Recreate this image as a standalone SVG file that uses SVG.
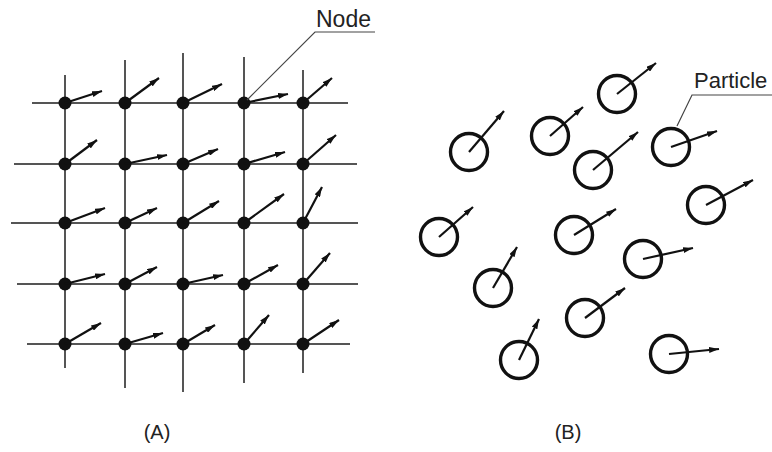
<svg xmlns="http://www.w3.org/2000/svg" width="772" height="452" viewBox="0 0 772 452">
<defs>
<marker id="ah" viewBox="0 0 10 6" refX="10" refY="3" markerWidth="10" markerHeight="6" markerUnits="userSpaceOnUse" orient="auto"><path d="M0,0 L10,3 L0,6 z" fill="#111"/></marker>
<style>
.grid{stroke:#555;stroke-width:2;fill:none}
.vec{stroke:#111;stroke-width:2.2;fill:none;marker-end:url(#ah)}
.dot{fill:#111}
.part{fill:none;stroke:#111;stroke-width:3.4}
.lead{stroke:#444;stroke-width:1.2;fill:none}
.lbl{font-family:"Liberation Sans",Arial,sans-serif;font-size:23px;fill:#222}
.cap{font-family:"Liberation Sans",Arial,sans-serif;font-size:20px;fill:#222;text-anchor:middle}
</style>
</defs>
<rect width="772" height="452" fill="#fff"/>
<g id="grid-lines">
<line class="grid" x1="32" y1="103" x2="348" y2="103"/>
<line class="grid" x1="14" y1="164" x2="357" y2="164"/>
<line class="grid" x1="11" y1="223" x2="358" y2="223"/>
<line class="grid" x1="17" y1="284" x2="358" y2="284"/>
<line class="grid" x1="27" y1="344" x2="350" y2="344"/>
<line class="grid" x1="65" y1="75" x2="65" y2="368"/>
<line class="grid" x1="125" y1="60" x2="125" y2="388"/>
<line class="grid" x1="183" y1="53" x2="183" y2="392"/>
<line class="grid" x1="244" y1="57" x2="244" y2="383"/>
<line class="grid" x1="303" y1="70" x2="303" y2="373"/>
</g>
<g id="grid-nodes">
<g id="n11"><circle class="dot" cx="65" cy="103" r="6.5"/><line class="vec" x1="65" y1="103" x2="102" y2="91"/></g>
<g id="n12"><circle class="dot" cx="125" cy="103" r="6.5"/><line class="vec" x1="125" y1="103" x2="159" y2="78"/></g>
<g id="n13"><circle class="dot" cx="183" cy="103" r="6.5"/><line class="vec" x1="183" y1="103" x2="222" y2="84"/></g>
<g id="n14"><circle class="dot" cx="244" cy="103" r="6.5"/><line class="vec" x1="244" y1="103" x2="288" y2="94"/></g>
<g id="n15"><circle class="dot" cx="303" cy="103" r="6.5"/><line class="vec" x1="303" y1="103" x2="332" y2="78"/></g>
<g id="n21"><circle class="dot" cx="65" cy="164" r="6.5"/><line class="vec" x1="65" y1="164" x2="97" y2="140"/></g>
<g id="n22"><circle class="dot" cx="125" cy="164" r="6.5"/><line class="vec" x1="125" y1="164" x2="167" y2="155"/></g>
<g id="n23"><circle class="dot" cx="183" cy="164" r="6.5"/><line class="vec" x1="183" y1="164" x2="218" y2="149"/></g>
<g id="n24"><circle class="dot" cx="244" cy="164" r="6.5"/><line class="vec" x1="244" y1="164" x2="285" y2="152"/></g>
<g id="n25"><circle class="dot" cx="303" cy="164" r="6.5"/><line class="vec" x1="303" y1="164" x2="336" y2="135"/></g>
<g id="n31"><circle class="dot" cx="65" cy="223" r="6.5"/><line class="vec" x1="65" y1="223" x2="105" y2="208"/></g>
<g id="n32"><circle class="dot" cx="125" cy="223" r="6.5"/><line class="vec" x1="125" y1="223" x2="157" y2="208"/></g>
<g id="n33"><circle class="dot" cx="183" cy="223" r="6.5"/><line class="vec" x1="183" y1="223" x2="219" y2="201"/></g>
<g id="n34"><circle class="dot" cx="244" cy="223" r="6.5"/><line class="vec" x1="244" y1="223" x2="284" y2="194"/></g>
<g id="n35"><circle class="dot" cx="303" cy="223" r="6.5"/><line class="vec" x1="303" y1="223" x2="322" y2="187"/></g>
<g id="n41"><circle class="dot" cx="65" cy="284" r="6.5"/><line class="vec" x1="65" y1="284" x2="105" y2="274"/></g>
<g id="n42"><circle class="dot" cx="125" cy="284" r="6.5"/><line class="vec" x1="125" y1="284" x2="157" y2="267"/></g>
<g id="n43"><circle class="dot" cx="183" cy="284" r="6.5"/><line class="vec" x1="183" y1="284" x2="223" y2="275"/></g>
<g id="n44"><circle class="dot" cx="244" cy="284" r="6.5"/><line class="vec" x1="244" y1="284" x2="278" y2="265"/></g>
<g id="n45"><circle class="dot" cx="303" cy="284" r="6.5"/><line class="vec" x1="303" y1="284" x2="330" y2="253"/></g>
<g id="n51"><circle class="dot" cx="65" cy="344" r="6.5"/><line class="vec" x1="65" y1="344" x2="101" y2="323"/></g>
<g id="n52"><circle class="dot" cx="125" cy="344" r="6.5"/><line class="vec" x1="125" y1="344" x2="163" y2="333"/></g>
<g id="n53"><circle class="dot" cx="183" cy="344" r="6.5"/><line class="vec" x1="183" y1="344" x2="215" y2="325"/></g>
<g id="n54"><circle class="dot" cx="244" cy="344" r="6.5"/><line class="vec" x1="244" y1="344" x2="269" y2="315"/></g>
<g id="n55"><circle class="dot" cx="303" cy="344" r="6.5"/><line class="vec" x1="303" y1="344" x2="339" y2="320"/></g>
</g>
<g id="particles">
<g id="p1"><circle class="part" cx="617" cy="94" r="18.5"/><line class="vec" x1="617" y1="94" x2="656" y2="63"/></g>
<g id="p2"><circle class="part" cx="469" cy="152" r="18.5"/><line class="vec" x1="469" y1="152" x2="504" y2="111"/></g>
<g id="p3"><circle class="part" cx="550" cy="136" r="18.5"/><line class="vec" x1="550" y1="136" x2="583" y2="107"/></g>
<g id="p4"><circle class="part" cx="593" cy="170" r="18.5"/><line class="vec" x1="593" y1="170" x2="638" y2="132"/></g>
<g id="p5"><circle class="part" cx="671" cy="147" r="18.5"/><line class="vec" x1="671" y1="147" x2="717" y2="131"/></g>
<g id="p6"><circle class="part" cx="706" cy="205" r="18.5"/><line class="vec" x1="706" y1="205" x2="753" y2="180"/></g>
<g id="p7"><circle class="part" cx="439" cy="237" r="18.5"/><line class="vec" x1="439" y1="237" x2="473" y2="207"/></g>
<g id="p8"><circle class="part" cx="574" cy="235" r="18.5"/><line class="vec" x1="574" y1="235" x2="616" y2="209"/></g>
<g id="p9"><circle class="part" cx="643" cy="259" r="18.5"/><line class="vec" x1="643" y1="259" x2="693" y2="248"/></g>
<g id="p10"><circle class="part" cx="493" cy="288" r="18.5"/><line class="vec" x1="493" y1="288" x2="517" y2="247"/></g>
<g id="p11"><circle class="part" cx="585" cy="318" r="18.5"/><line class="vec" x1="585" y1="318" x2="625" y2="288"/></g>
<g id="p12"><circle class="part" cx="519" cy="360" r="18.5"/><line class="vec" x1="519" y1="360" x2="539" y2="319"/></g>
<g id="p13"><circle class="part" cx="669" cy="354" r="18.5"/><line class="vec" x1="669" y1="354" x2="719" y2="349"/></g>
</g>
<g id="connectors">
<polyline class="lead" points="247,100 315,32 375,32"/>
<polyline class="lead" points="677,126 692,95 772,95"/>
</g>
<g id="labels">
<text class="lbl" x="316" y="27">Node</text>
<text class="lbl" x="694" y="88" style="font-size:22px">Particle</text>
<text class="cap" x="157" y="439">(A)</text>
<text class="cap" x="568" y="439">(B)</text>
</g>
</svg>
